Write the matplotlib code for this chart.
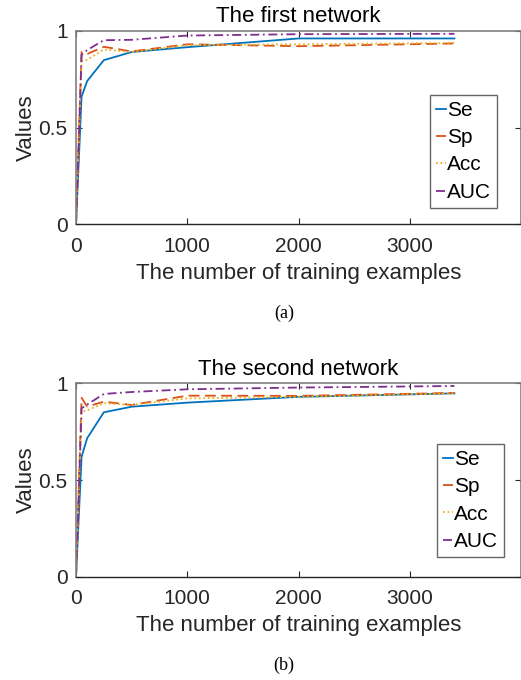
"""Two learning curves (Se, Sp, Acc, AUC vs training set size), MATLAB look."""
import matplotlib

matplotlib.use("Agg")

import matplotlib.pyplot as plt  # noqa: E402

plt.rcParams["font.family"] = ["Liberation Sans", "DejaVu Sans"]

W, H = 521, 680

# training set sizes shared by both networks
n_train = [0, 50, 100, 250, 500, 1000, 2000, 3400]

# first network
se_1 = [0, 0.66, 0.74, 0.848, 0.89, 0.915, 0.96, 0.96]
sp_1 = [0, 0.89, 0.88, 0.917, 0.893, 0.93, 0.92, 0.934]
acc_1 = [0, 0.84, 0.85, 0.903, 0.89, 0.925, 0.93, 0.937]
auc_1 = [0, 0.875, 0.90, 0.951, 0.953, 0.975, 0.982, 0.984]

# second network
se_2 = [0, 0.62, 0.716, 0.85, 0.879, 0.90, 0.93, 0.948]
sp_2 = [0, 0.925, 0.88, 0.905, 0.888, 0.936, 0.935, 0.95]
acc_2 = [0, 0.853, 0.86, 0.897, 0.888, 0.922, 0.93, 0.948]
auc_2 = [0, 0.871, 0.89, 0.945, 0.955, 0.969, 0.978, 0.986]

titles = ["The first network", "The second network"]
captions = ["(a)", "(b)"]
labels = ["Se", "Sp", "Acc", "AUC"]
x_ticks = [0, 1000, 2000, 3000]
y_ticks = [0, 0.5, 1]
y_tick_labels = ["0", "0.5", "1"]

COLORS = ["#0072BD", "#D95319", "#EDB120", "#7E2F8E"]
STYLES = ["-", (0, (6, 3)), (0, (1, 1.5)), (0, (5, 2, 1, 2))]

# axes boxes in pixels: left, top, right, bottom
AX_BOXES = [(76, 30.7, 521.2, 224.5), (76, 383.3, 521.2, 576.7)]
LEGEND_TOPLEFT = [(430, 95), (437, 444)]
CAPTION_Y = [313, 665]


def px_rect(left, top, right, bottom):
    return [left / W, 1 - bottom / H, (right - left) / W, (bottom - top) / H]


fig = plt.figure(figsize=(W / 100, H / 100), dpi=100)

series = [(se_1, sp_1, acc_1, auc_1), (se_2, sp_2, acc_2, auc_2)]
for i, values in enumerate(series):
    ax = fig.add_axes(px_rect(*AX_BOXES[i]))
    for vals, label, color, style in zip(values, labels, COLORS, STYLES):
        ax.plot(n_train, vals, color=color, linestyle=style, linewidth=1.3, label=label)

    ax.set_xlim(0, 4000)
    ax.set_ylim(0, 1)
    ax.set_xticks(x_ticks)
    ax.set_yticks(y_ticks)
    ax.set_yticklabels(y_tick_labels)
    ax.tick_params(direction="in", top=True, right=True, length=4, width=0.8,
                   labelsize=15, colors="#262626")
    ax.tick_params(axis="x", pad=9)
    ax.tick_params(axis="y", pad=6)
    for side in ["top", "right", "left"]:
        ax.spines[side].set_color("#808080")
        ax.spines[side].set_linewidth(1.2)
    ax.spines["bottom"].set_color("#262626")
    ax.spines["bottom"].set_linewidth(1.0)

    ax.set_title(titles[i], fontsize=16, pad=6)
    ax.set_xlabel("The number of training examples", fontsize=16, color="#262626",
                  labelpad=5)
    ax.set_ylabel("Values", fontsize=16, color="#262626", labelpad=1)

    lx, ly = LEGEND_TOPLEFT[i]
    leg = ax.legend(loc="upper left", bbox_to_anchor=(lx / W, 1 - ly / H),
                    bbox_transform=fig.transFigure, borderaxespad=0, fontsize=15,
                    handlelength=0.5, handletextpad=0.05, labelspacing=0.4,
                    borderpad=0.28, fancybox=False, framealpha=1)
    leg.get_frame().set_edgecolor("#666666")
    leg.get_frame().set_linewidth(1.0)

    fig.text(284 / W, 1 - CAPTION_Y[i] / H, captions[i], ha="center", va="center",
             fontsize=13, family=["Liberation Serif", "DejaVu Serif"])

fig.savefig("out.png", dpi=100)
